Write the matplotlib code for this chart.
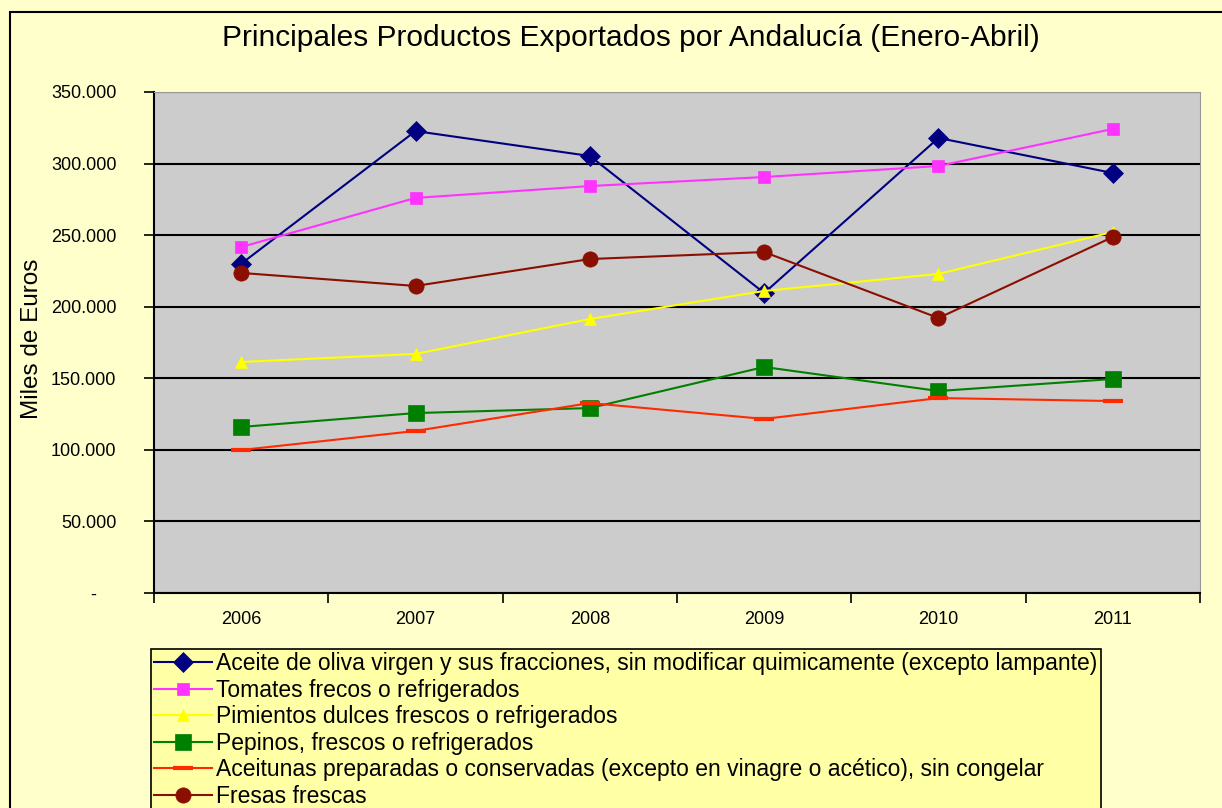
import matplotlib.pyplot as plt
from matplotlib.patches import Rectangle
from matplotlib.ticker import FuncFormatter

years = ["2006", "2007", "2008", "2009", "2010", "2011"]

aceite = [230000, 322700, 305300, 209600, 317900, 293400]
tomates = [241700, 276000, 284300, 290600, 298300, 324200]
pimientos = [161400, 167000, 191400, 211000, 222900, 252200]
pepinos = [116000, 125700, 129200, 157900, 141100, 149500]
aceitunas = [99900, 113200, 132700, 121600, 136200, 134100]
fresas = [223600, 214500, 233300, 238200, 192100, 248700]

labels = [
    "Aceite de oliva virgen y sus fracciones, sin modificar quimicamente (excepto lampante)",
    "Tomates frecos o refrigerados",
    "Pimientos dulces frescos o refrigerados",
    "Pepinos, frescos o refrigerados",
    "Aceitunas preparadas o conservadas (excepto en vinagre o acético), sin congelar",
    "Fresas frescas",
]

plt.rcParams['font.family'] = ['Liberation Sans', 'DejaVu Sans']

W, H = 1222, 808
fig = plt.figure(figsize=(W / 100, H / 100), dpi=100, facecolor="#FFFFCC")

# outer chart border (runs off the right and bottom edge)
fig.patches.append(Rectangle((10 / W, -0.1), 1.2, 1 - 12 / H + 0.1,
                             transform=fig.transFigure, fill=False,
                             edgecolor="black", linewidth=1.5))

ax = fig.add_axes([154 / W, 1 - 593 / H, (1200 - 154) / W, (593 - 92) / H])
ax.set_facecolor("#CCCCCC")

x = list(range(len(years)))
series = [
    (aceite, "#000080", "D", 10),
    (tomates, "#FF33FF", "s", 8),
    (pimientos, "#FFFF00", "^", 9),
    (pepinos, "#008000", "s", 11),
    (aceitunas, "#FF2A00", "_", 14),
    (fresas, "#8B0F00", "o", 11),
]
handles = []
for vals, col, mk, ms in series:
    h, = ax.plot(x, vals, color=col, marker=mk, markersize=ms, linewidth=1.5,
                 markerfacecolor=col, markeredgecolor=col,
                 markeredgewidth=3 if mk == "_" else 0.5, zorder=3)
    handles.append(h)

ax.set_xlim(-0.5, 5.5)
ax.set_ylim(0, 350000)
ax.set_yticks(range(0, 350001, 50000))
ax.yaxis.set_major_formatter(FuncFormatter(
    lambda v, p: "-    " if v == 0 else f"{int(v):,}".replace(",", ".")))
ax.grid(axis="y", color="black", linewidth=1.5, zorder=1)
ax.set_axisbelow(True)

ax.set_xticks([i - 0.5 for i in range(len(years) + 1)])
ax.set_xticklabels([])
ax.set_xticks(x, minor=True)
ax.set_xticklabels(years, minor=True)
ax.tick_params(axis="x", which="major", length=7, width=1.2, direction="out")
ax.tick_params(axis="x", which="minor", length=0, pad=13, labelsize=13)
ax.tick_params(axis="y", length=7, width=1.2, labelsize=13, pad=20)

for side in ["top", "right"]:
    ax.spines[side].set_color("#999999")
for side in ["left", "bottom"]:
    ax.spines[side].set_linewidth(1.5)

fig.text(32 / W, 1 - 339 / H, "Miles de Euros", rotation=90,
         ha="center", va="center", fontsize=17.5)
fig.text(631 / W, 1 - 38 / H, "Principales Productos Exportados por Andalucía (Enero-Abril)",
         ha="center", va="center", fontsize=21.5)

leg = fig.legend(handles, labels, loc="upper left",
                 bbox_to_anchor=(151 / W, 1 - 649 / H), fontsize=16.5,
                 frameon=True, fancybox=False, facecolor="#FFFFA6",
                 edgecolor="black", framealpha=1, handlelength=2.5,
                 handletextpad=0.2, labelspacing=0.15, borderpad=0.15,
                 borderaxespad=0)
leg.get_frame().set_linewidth(1.2)

fig.savefig("out.png", dpi=100, facecolor=fig.get_facecolor())
